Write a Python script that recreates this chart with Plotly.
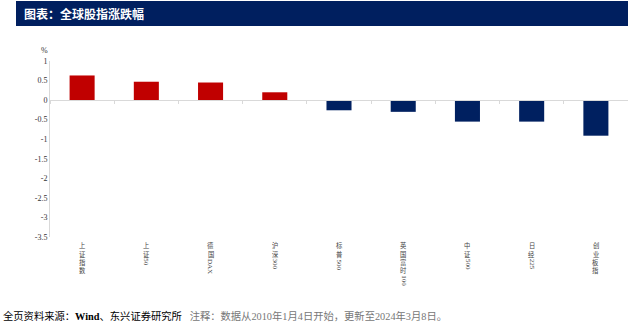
import re
import plotly.graph_objects as go

categories = ["上证指数", "上证50", "德国DAX", "沪深300", "标普500", "英国富时100", "中证500", "日经225", "创业板指"]
values = [0.63, 0.47, 0.45, 0.20, -0.26, -0.30, -0.55, -0.55, -0.91]
y_ticks = [1, 0.5, 0, -0.5, -1, -1.5, -2, -2.5, -3, -3.5]
y_tick_text = ["1", "0.5", "0", "-0.5", "-1", "-1.5", "-2", "-2.5", "-3", "-3.5"]

RED = "#C00000"
NAVY = "#002060"
colors = [RED if v >= 0 else NAVY for v in values]

W, H = 628, 327
L, R, T, B = 50, 0, 61, 90
pw, ph = W - L - R, H - T - B


def px_x(p):
    return (p - L) / pw


def px_y(p):
    return 1 + (T - p) / ph


fig = go.Figure()
fig.add_trace(go.Bar(x=list(range(len(categories))), y=values, marker=dict(color=colors, line=dict(width=0)),
                     width=0.39, showlegend=False, hoverinfo="x+y"))
# invisible trace so the zero-line axis is drawn
fig.add_trace(go.Scatter(x=[0], y=[0], xaxis="x2", mode="markers", marker=dict(opacity=0), showlegend=False,
                         hoverinfo="skip"))

n = len(categories)
fig.update_layout(
    width=W, height=H,
    margin=dict(l=L, r=R, t=T, b=B),
    paper_bgcolor="white", plot_bgcolor="white",
    font=dict(family="Liberation Serif, Noto Sans CJK SC", size=8, color="#333"),
    xaxis=dict(range=[-0.5, n - 0.5], showticklabels=False, showline=False, ticks="", showgrid=False,
               zeroline=False),
    xaxis2=dict(
        overlaying="x", anchor="free", position=3.5 / 4.5, range=[-0.5, n - 0.5],
        tickmode="array", tickvals=[i - 0.5 for i in range(n + 1)], ticks="outside", ticklen=3,
        tickcolor="#d9d9d9", showline=True, linecolor="#d9d9d9", linewidth=1,
        showticklabels=False, showgrid=False, zeroline=False,
    ),
    yaxis=dict(
        range=[-3.5, 1], tickmode="array", tickvals=y_ticks, ticktext=y_tick_text,
        showline=True, linecolor="#d9d9d9", linewidth=1, ticks="", showgrid=False, zeroline=False,
        tickfont=dict(family="Liberation Serif", size=8, color="#333"),
    ),
)

# vertical category labels: CJK characters stacked upright, Latin runs rotated
CJK_STEP = 8.0
LAT_SIZE = 7
for i, cat in enumerate(categories):
    segs = re.findall(r"[A-Za-z0-9]+|.", cat)
    y = 242.0
    for s in segs:
        if re.match(r"[A-Za-z0-9]", s):
            length = sum(5.0 if c.isupper() else 3.6 for c in s) + 1
            fig.add_annotation(xref="x", yref="paper", x=i, y=px_y(y + length / 2 + 0.5), text=s,
                               textangle=90, showarrow=False, xanchor="center", yanchor="middle",
                               font=dict(family="Liberation Serif", size=LAT_SIZE, color="#444"),
                               borderpad=0)
            y += length
        else:
            fig.add_annotation(xref="x", yref="paper", x=i, y=px_y(y + CJK_STEP / 2), text=s,
                               showarrow=False, xanchor="center", yanchor="middle",
                               font=dict(family="Noto Sans CJK SC", size=6.3, color="#444"),
                               borderpad=0)
            y += CJK_STEP

fig.add_shape(type="rect", xref="paper", yref="paper", x0=px_x(16), x1=px_x(630), y0=px_y(26), y1=px_y(1),
              fillcolor="#001F5F", line=dict(width=0), layer="below")
fig.add_annotation(xref="paper", yref="paper", x=px_x(22), y=px_y(13.5), xanchor="left", yanchor="middle",
                   text="<b>图表：全球股指涨跌幅</b>", showarrow=False,
                   font=dict(family="Noto Sans CJK SC", size=12, color="white"))
fig.add_annotation(xref="paper", yref="paper", x=px_x(44), y=px_y(51), xanchor="center", yanchor="middle",
                   text="%", showarrow=False, font=dict(family="Liberation Serif", size=8, color="#333"))
fig.add_annotation(xref="paper", yref="paper", x=px_x(1), y=px_y(316), xanchor="left", yanchor="middle",
                   text="<span style='color:#000'>全页资料来源：<b>Wind</b>、东兴证券研究所</span>"
                        "   <span style='color:#777'>注释：数据从2010年1月4日开始，更新至2024年3月8日。</span>",
                   showarrow=False, font=dict(family="Liberation Serif, Noto Sans CJK SC", size=10.3, color="#000"))

fig.write_html("out.html")
